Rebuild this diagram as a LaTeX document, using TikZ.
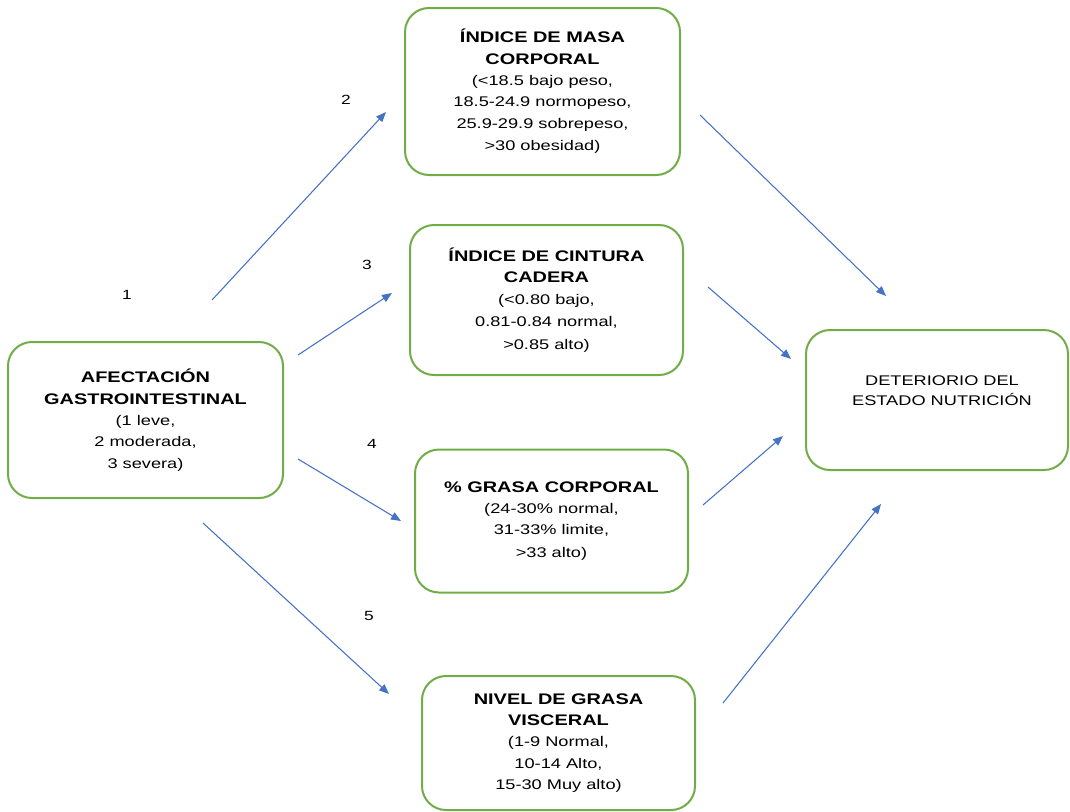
\documentclass[tikz,border=0pt]{standalone}
\usepackage{fontspec}
\setmainfont[FakeStretch=1.3]{Liberation Sans}
\usetikzlibrary{arrows.meta}
\definecolor{boxgreen}{RGB}{112,173,71}
\definecolor{arrowblue}{RGB}{68,114,196}
\tikzset{
  varbox/.style={draw=boxgreen, line width=1.5pt, rounded corners=18pt, align=center, inner sep=0pt,
    font={\fontsize{10.5}{16}\selectfont}},
  conn/.style={draw=arrowblue, line width=0.8pt, -{Triangle[length=7.5pt,width=6pt]}},
  numlbl/.style={font=\fontsize{10}{12}\selectfont, inner sep=0pt},
}
\newcommand{\hd}{\fontsize{11.5}{16}\selectfont\bfseries}
\newcommand{\bd}{\fontsize{10.5}{16}\selectfont\mdseries}
\begin{document}
\begin{tikzpicture}[x=0.75pt,y=-0.75pt]
\useasboundingbox (0,0) rectangle (1070,811);
% boxes
\node[varbox, minimum width=206.25pt, minimum height=125.25pt] (imc) at (542.5,91.5)
  {\hd ÍNDICE DE MASA\\ \hd CORPORAL\\ \bd (<18.5 bajo peso,\\ \bd 18.5-24.9 normopeso,\\ \bd 25.9-29.9 sobrepeso,\\[1pt] \bd >30 obesidad)};
\node[varbox, minimum width=204.75pt, minimum height=112.5pt] (icc) at (546.5,300)
  {\hd ÍNDICE DE CINTURA\\ \hd CADERA\\ \bd (<0.80 bajo,\\[1pt] \bd 0.81-0.84 normal,\\[1pt] \bd >0.85 alto)};
\node[varbox, minimum width=204.75pt, minimum height=107.25pt] (grasa) at (551.5,521)
  {\hd \% GRASA CORPORAL\\ \bd (24-30\% normal,\\ \bd 31-33\% limite,\\[1pt] \bd >33 alto)};
\node[varbox, minimum width=204.75pt, minimum height=100.5pt] (nivel) at (558.5,743)
  {\hd NIVEL DE GRASA\\ \hd VISCERAL\\ \bd (1-9 Normal,\\ \bd 10-14 Alto,\\ \bd 15-30 Muy alto)};
\node[varbox, minimum width=206.25pt, minimum height=117pt] (afect) at (145.5,420)
  {\hd AFECTACIÓN\\ \hd GASTROINTESTINAL\\ \bd (1 leve,\\ \bd 2 moderada,\\ \bd 3 severa)};
\node[varbox, minimum width=196.5pt, minimum height=105pt] (deter) at (937,400) {};
\node[align=center, inner sep=0pt, font={\fontsize{10.5}{15}\selectfont}] (detertxt) at (942,391)
  {DETERIORIO DEL\\ ESTADO NUTRICIÓN};
% arrow end points
\coordinate (a1s) at (212,300); \coordinate (a1e) at (386,112);
\coordinate (a2s) at (298,355); \coordinate (a2e) at (392,293);
\coordinate (a3s) at (298,459); \coordinate (a3e) at (401,521);
\coordinate (a4s) at (203,523); \coordinate (a4e) at (389,694);
\coordinate (b1s) at (700,115); \coordinate (b1e) at (886,296);
\coordinate (b2s) at (708,287); \coordinate (b2e) at (791,359);
\coordinate (b3s) at (703,505); \coordinate (b3e) at (783,436);
\coordinate (b4s) at (723,703); \coordinate (b4e) at (881,504);
\draw[conn] (a1s) -- (a1e);
\draw[conn] (a2s) -- (a2e);
\draw[conn] (a3s) -- (a3e);
\draw[conn] (a4s) -- (a4e);
\draw[conn] (b1s) -- (b1e);
\draw[conn] (b2s) -- (b2e);
\draw[conn] (b3s) -- (b3e);
\draw[conn] (b4s) -- (b4e);
% numbers
\node[numlbl] (n1) at (127,295) {1};
\node[numlbl] (n2) at (346,100) {2};
\node[numlbl] (n3) at (367,265) {3};
\node[numlbl] (n4) at (372,444) {4};
\node[numlbl] (n5) at (369,616) {5};
\end{tikzpicture}
\end{document}
